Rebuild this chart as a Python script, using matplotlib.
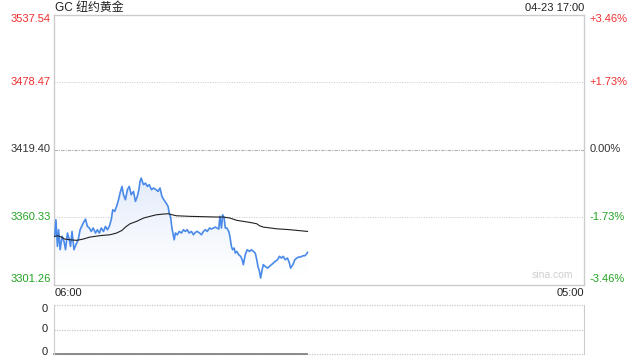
import numpy as np
import matplotlib
matplotlib.use("Agg")
import matplotlib.pyplot as plt
from matplotlib.colors import LinearSegmentedColormap

plt.rcParams['font.family'] = ['Liberation Sans', 'Noto Sans CJK SC', 'DejaVu Sans']

# data: minutes after 06:00, price
prev_close = 3419.40
y_ticks = [3301.26, 3360.33, 3419.40, 3478.47, 3537.54]
pct_labels = ['-3.46%', '-1.73%', '0.00%', '+1.73%', '+3.46%']
title = 'GC 纽约黄金'
stamp = '04-23 17:00'
x_labels = ['06:00', '05:00']

price_t = [2, 5, 9, 12, 16, 21, 26, 30, 35, 40, 43, 47, 52, 57, 63, 68, 76, 82, 87, 92,
           97, 102, 108, 113, 118, 123, 129, 134, 139, 144, 149, 153, 158, 163, 168, 172,
           177, 181, 186, 191, 196, 201, 207, 212, 217, 221, 224, 227, 233, 238, 243, 248,
           254, 259, 266, 271, 276, 281, 286, 292, 297, 300, 304, 307, 313, 316, 321, 326,
           332, 337, 342, 347, 352, 358, 363, 368, 373, 379, 384, 389, 394, 399, 405, 410,
           415, 420, 424, 429, 432, 436, 439, 443, 446, 450, 455, 458, 462, 465, 469, 472,
           476, 481, 486, 490, 493, 498, 503, 509, 514, 519, 524, 528, 531, 535, 538, 542,
           545, 550, 556, 561, 566, 571, 576, 582, 587, 592, 597, 602, 608, 613, 616, 622,
           627, 632, 637, 642, 648, 653, 658, 660]
price_v = [3343.4, 3357.9, 3334.6, 3349.2, 3331.7, 3343.4, 3339.0, 3331.7, 3346.3, 3340.4,
           3334.6, 3347.7, 3331.7, 3336.1, 3340.4, 3349.2, 3355.0, 3358.5, 3352.1, 3350.7,
           3347.7, 3350.7, 3346.3, 3349.2, 3346.3, 3350.7, 3347.7, 3352.1, 3349.2, 3352.1,
           3357.9, 3366.7, 3365.2, 3369.6, 3375.4, 3381.3, 3387.1, 3379.8, 3375.4, 3384.2,
           3387.1, 3379.8, 3382.7, 3374.0, 3378.4, 3384.2, 3391.5, 3394.4, 3388.6, 3390.0,
           3387.1, 3388.6, 3384.2, 3385.7, 3384.2, 3382.7, 3385.7, 3378.4, 3375.4, 3372.5,
           3369.6, 3363.8, 3359.4, 3350.7, 3340.4, 3346.3, 3344.8, 3347.7, 3346.3, 3349.2,
           3347.7, 3349.2, 3346.3, 3347.7, 3344.8, 3346.9, 3347.7, 3346.3, 3344.8, 3347.7,
           3349.2, 3347.7, 3350.7, 3349.8, 3350.7, 3351.5, 3350.7, 3349.8, 3360.9, 3350.7,
           3362.3, 3359.4, 3350.7, 3350.7, 3347.7, 3343.4, 3334.6, 3331.7, 3333.2, 3328.8,
           3330.2, 3327.3, 3325.9, 3322.9, 3318.6, 3327.3, 3331.7, 3330.2, 3331.7, 3330.2,
           3328.8, 3322.9, 3317.1, 3312.7, 3306.9, 3314.2, 3318.6, 3317.1, 3315.6, 3317.1,
           3318.6, 3320.0, 3321.5, 3322.9, 3325.9, 3324.4, 3325.9, 3322.9, 3324.4, 3320.0,
           3315.6, 3318.6, 3322.9, 3324.4, 3325.3, 3325.3, 3326.4, 3326.4, 3328.2, 3329.4]

avg_t = [2, 10, 19, 28, 42, 59, 76, 94, 120, 146, 163, 177, 186, 198, 215, 233, 250, 267,
         285, 298, 307, 319, 354, 389, 424, 441, 458, 476, 510, 528, 535, 545, 580, 615, 660]
avg_v = [3343.4, 3344.0, 3342.8, 3341.0, 3340.4, 3339.9, 3341.0, 3342.8, 3344.0, 3344.8,
         3346.3, 3348.6, 3351.5, 3354.4, 3356.5, 3359.4, 3360.9, 3362.3, 3362.9, 3363.2,
         3362.3, 3361.4, 3360.9, 3360.6, 3360.3, 3360.3, 3359.4, 3357.4, 3355.6, 3354.4,
         3352.7, 3351.5, 3350.0, 3349.2, 3347.7]

vol_ticks = [0, 1, 2]
red = '#f03030'
green = '#22a322'
dark = '#333333'
edge = '#cccccc'

fig = plt.figure(figsize=(6.4, 3.6), dpi=100)
ax = fig.add_axes((54/640, 75.5/360, 530/640, 270/360))
ax.set_xlim(0, 1380)
ax.set_ylim(y_ticks[0], y_ticks[-1])

# gradient fill under price line
fill = ax.fill_between(price_t, price_v, y_ticks[0], color='none', lw=0)
cmap = LinearSegmentedColormap.from_list('f', ['#ffffff', '#e4ecfb'])
grad = np.linspace(0, 1, 100).reshape(-1, 1)
im = ax.imshow(grad, cmap=cmap, aspect='auto', origin='lower',
               extent=(0, 1380, y_ticks[0] + 8, max(price_v)), zorder=1)
for p in fill.get_paths():
    im.set_clip_path(p, transform=ax.transData)

ax.plot(price_t, price_v, color='#4a8ae8', lw=1.2, zorder=3)
ax.plot(avg_t, avg_v, color='#222222', lw=0.8, zorder=4)

for v in [y_ticks[1], y_ticks[3]]:
    ax.axhline(v, color='#c8c8c8', lw=0.7, ls=(0, (1, 1.5)), zorder=0)
ax.axhline(prev_close, color='#b0b0b0', lw=0.8, ls=(0, (3, 1, 1, 1)), zorder=0)

ax.set_xticks([])
ax.set_yticks([])
for s in ax.spines.values():
    s.set_color(edge)
    s.set_linewidth(1)

# left price labels and right percent labels
for i, (v, pl) in enumerate(zip(y_ticks, pct_labels)):
    col = green if v < prev_close else (red if v > prev_close else dark)
    va = 'bottom' if i == 0 else ('top' if i == len(y_ticks) - 1 else 'center')
    ax.text(-0.006, v, f'{v:.2f}', transform=ax.get_yaxis_transform(),
            ha='right', va=va, color=col, fontsize=8)
    ax.text(1.011, v, pl, transform=ax.get_yaxis_transform(),
            ha='left', va=va, color=col, fontsize=8)

fig.text(55/640, 1 - 8/360, title, ha='left', va='center', fontsize=8.6, color='#222222')
fig.text(584/640, 1 - 8/360, stamp, ha='right', va='center', fontsize=8, color='#222222')
fig.text(55/640, 1 - 293/360, x_labels[0], ha='left', va='center', fontsize=8, color='#222222')
fig.text(584/640, 1 - 293/360, x_labels[1], ha='right', va='center', fontsize=8, color='#222222')
ax.text(0.94, 0.015, 'sina.com', transform=ax.transAxes, ha='center', va='bottom',
        fontsize=7.5, color='#cfcfcf')

# volume panel
axv = fig.add_axes((54/640, 6/360, 530/640, 49/360))
axv.set_xlim(0, 1380)
axv.set_ylim(vol_ticks[0], vol_ticks[-1])
axv.set_xticks([])
axv.set_yticks([])
for side in ['top', 'bottom']:
    axv.spines[side].set_visible(False)
for side in ['left', 'right']:
    axv.spines[side].set_color(edge)
label_y = [0.1, 1, 1.84]
for v, ly in zip(vol_ticks, label_y):
    axv.axhline(v, color='#c8c8c8', lw=0.9, ls=(0, (1, 1)), clip_on=False)
    axv.text(-0.012, ly, '0', transform=axv.get_yaxis_transform(), ha='right',
             va='center', fontsize=8, color='#222222')
axv.plot([price_t[0] - 2, price_t[-1]], [0, 0], color='#777777', lw=1.2, clip_on=False)

fig.savefig('out.png', dpi=100)
